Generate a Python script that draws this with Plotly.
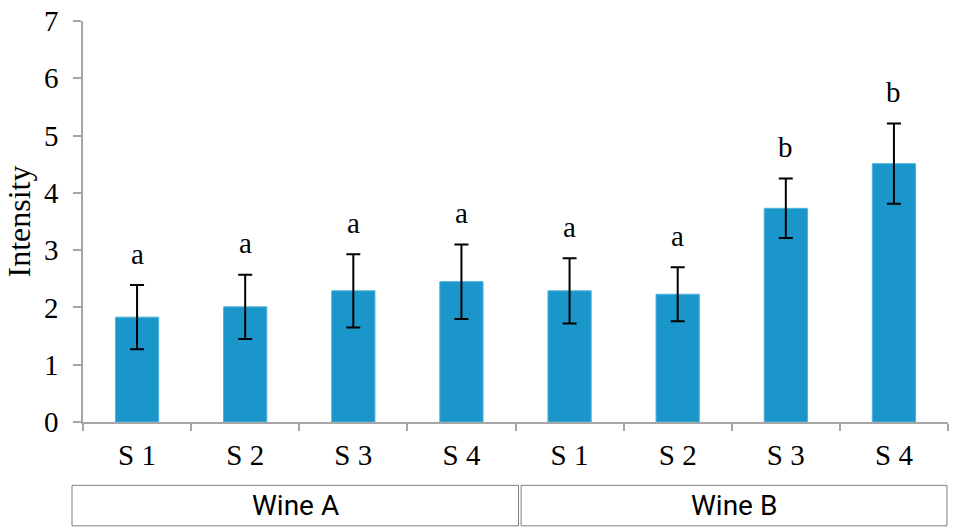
import plotly.graph_objects as go

# Sensory intensity per sample, two wines
wines = ["Wine A", "Wine B"]
samples = ["S 1", "S 2", "S 3", "S 4"]
means = [1.83, 2.01, 2.29, 2.45, 2.29, 2.23, 3.73, 4.51]
errors = [0.56, 0.56, 0.64, 0.65, 0.57, 0.47, 0.52, 0.70]
letters = ["a", "a", "a", "a", "a", "a", "b", "b"]

cats = [f"{w} {s}" for w in wines for s in samples]
tick_text = [s for w in wines for s in samples]

BAR = "#1b96cb"
AXIS = "#a6a6a6"
SERIF = "Liberation Serif, Times New Roman, serif"

fig = go.Figure()
fig.add_trace(go.Bar(
    x=cats, y=means,
    marker=dict(color=BAR, line=dict(color="#4fb3dd", width=1)),
    error_y=dict(type="data", array=errors, visible=True,
                 color="black", thickness=2, width=7),
    showlegend=False,
))

# significance letters above each error bar
for c, m, e, t in zip(cats, means, errors, letters):
    fig.add_annotation(x=c, y=m + e + 0.55, text=t, showarrow=False,
                       xref="x", yref="y", yanchor="middle",
                       font=dict(family=SERIF, size=29, color="black"))

# y-axis title
fig.add_annotation(x=-0.074, y=0.5, xref="paper", yref="paper",
                   xanchor="center", yanchor="middle",
                   text="Intensity", textangle=-90, showarrow=False,
                   font=dict(family=SERIF, size=32, color="black"))

# wine group boxes below the sample labels
group_spans = [(-0.0127, 0.5035), (0.5065, 0.9988)]
for name, (x0, x1) in zip(wines, group_spans):
    fig.add_shape(type="rect", xref="paper", yref="paper",
                  x0=x0, x1=x1, y0=-0.259, y1=-0.158,
                  line=dict(color="#7f7f7f", width=1), fillcolor="white")
    fig.add_annotation(x=(x0 + x1) / 2, y=-0.2085, xref="paper", yref="paper",
                       xanchor="center", yanchor="middle",
                       text=name, showarrow=False,
                       font=dict(family="Roboto, sans-serif", size=28, color="black"))

fig.update_layout(
    width=953, height=531,
    margin=dict(l=83, r=5, t=17, b=109),
    paper_bgcolor="white", plot_bgcolor="white",
    bargap=0.6,
    xaxis=dict(
        type="category", tickvals=cats, ticktext=tick_text,
        tickson="boundaries", ticks="outside", ticklen=7,
        tickcolor=AXIS, tickwidth=1.5,
        showline=True, linecolor=AXIS, linewidth=1.5,
        showgrid=False, zeroline=False,
        tickfont=dict(family=SERIF, size=29, color="black"),
        ticklabelstandoff=6,
    ),
    yaxis=dict(
        range=[0, 7], tickvals=[0, 1, 2, 3, 4, 5, 6, 7],
        ticks="outside", ticklen=8, tickcolor=AXIS, tickwidth=1.5,
        showline=True, linecolor=AXIS, linewidth=1.5,
        showgrid=False, zeroline=False,
        tickfont=dict(family=SERIF, size=29, color="black"),
        ticklabelstandoff=9,
    ),
)

fig.write_html("out.html")
